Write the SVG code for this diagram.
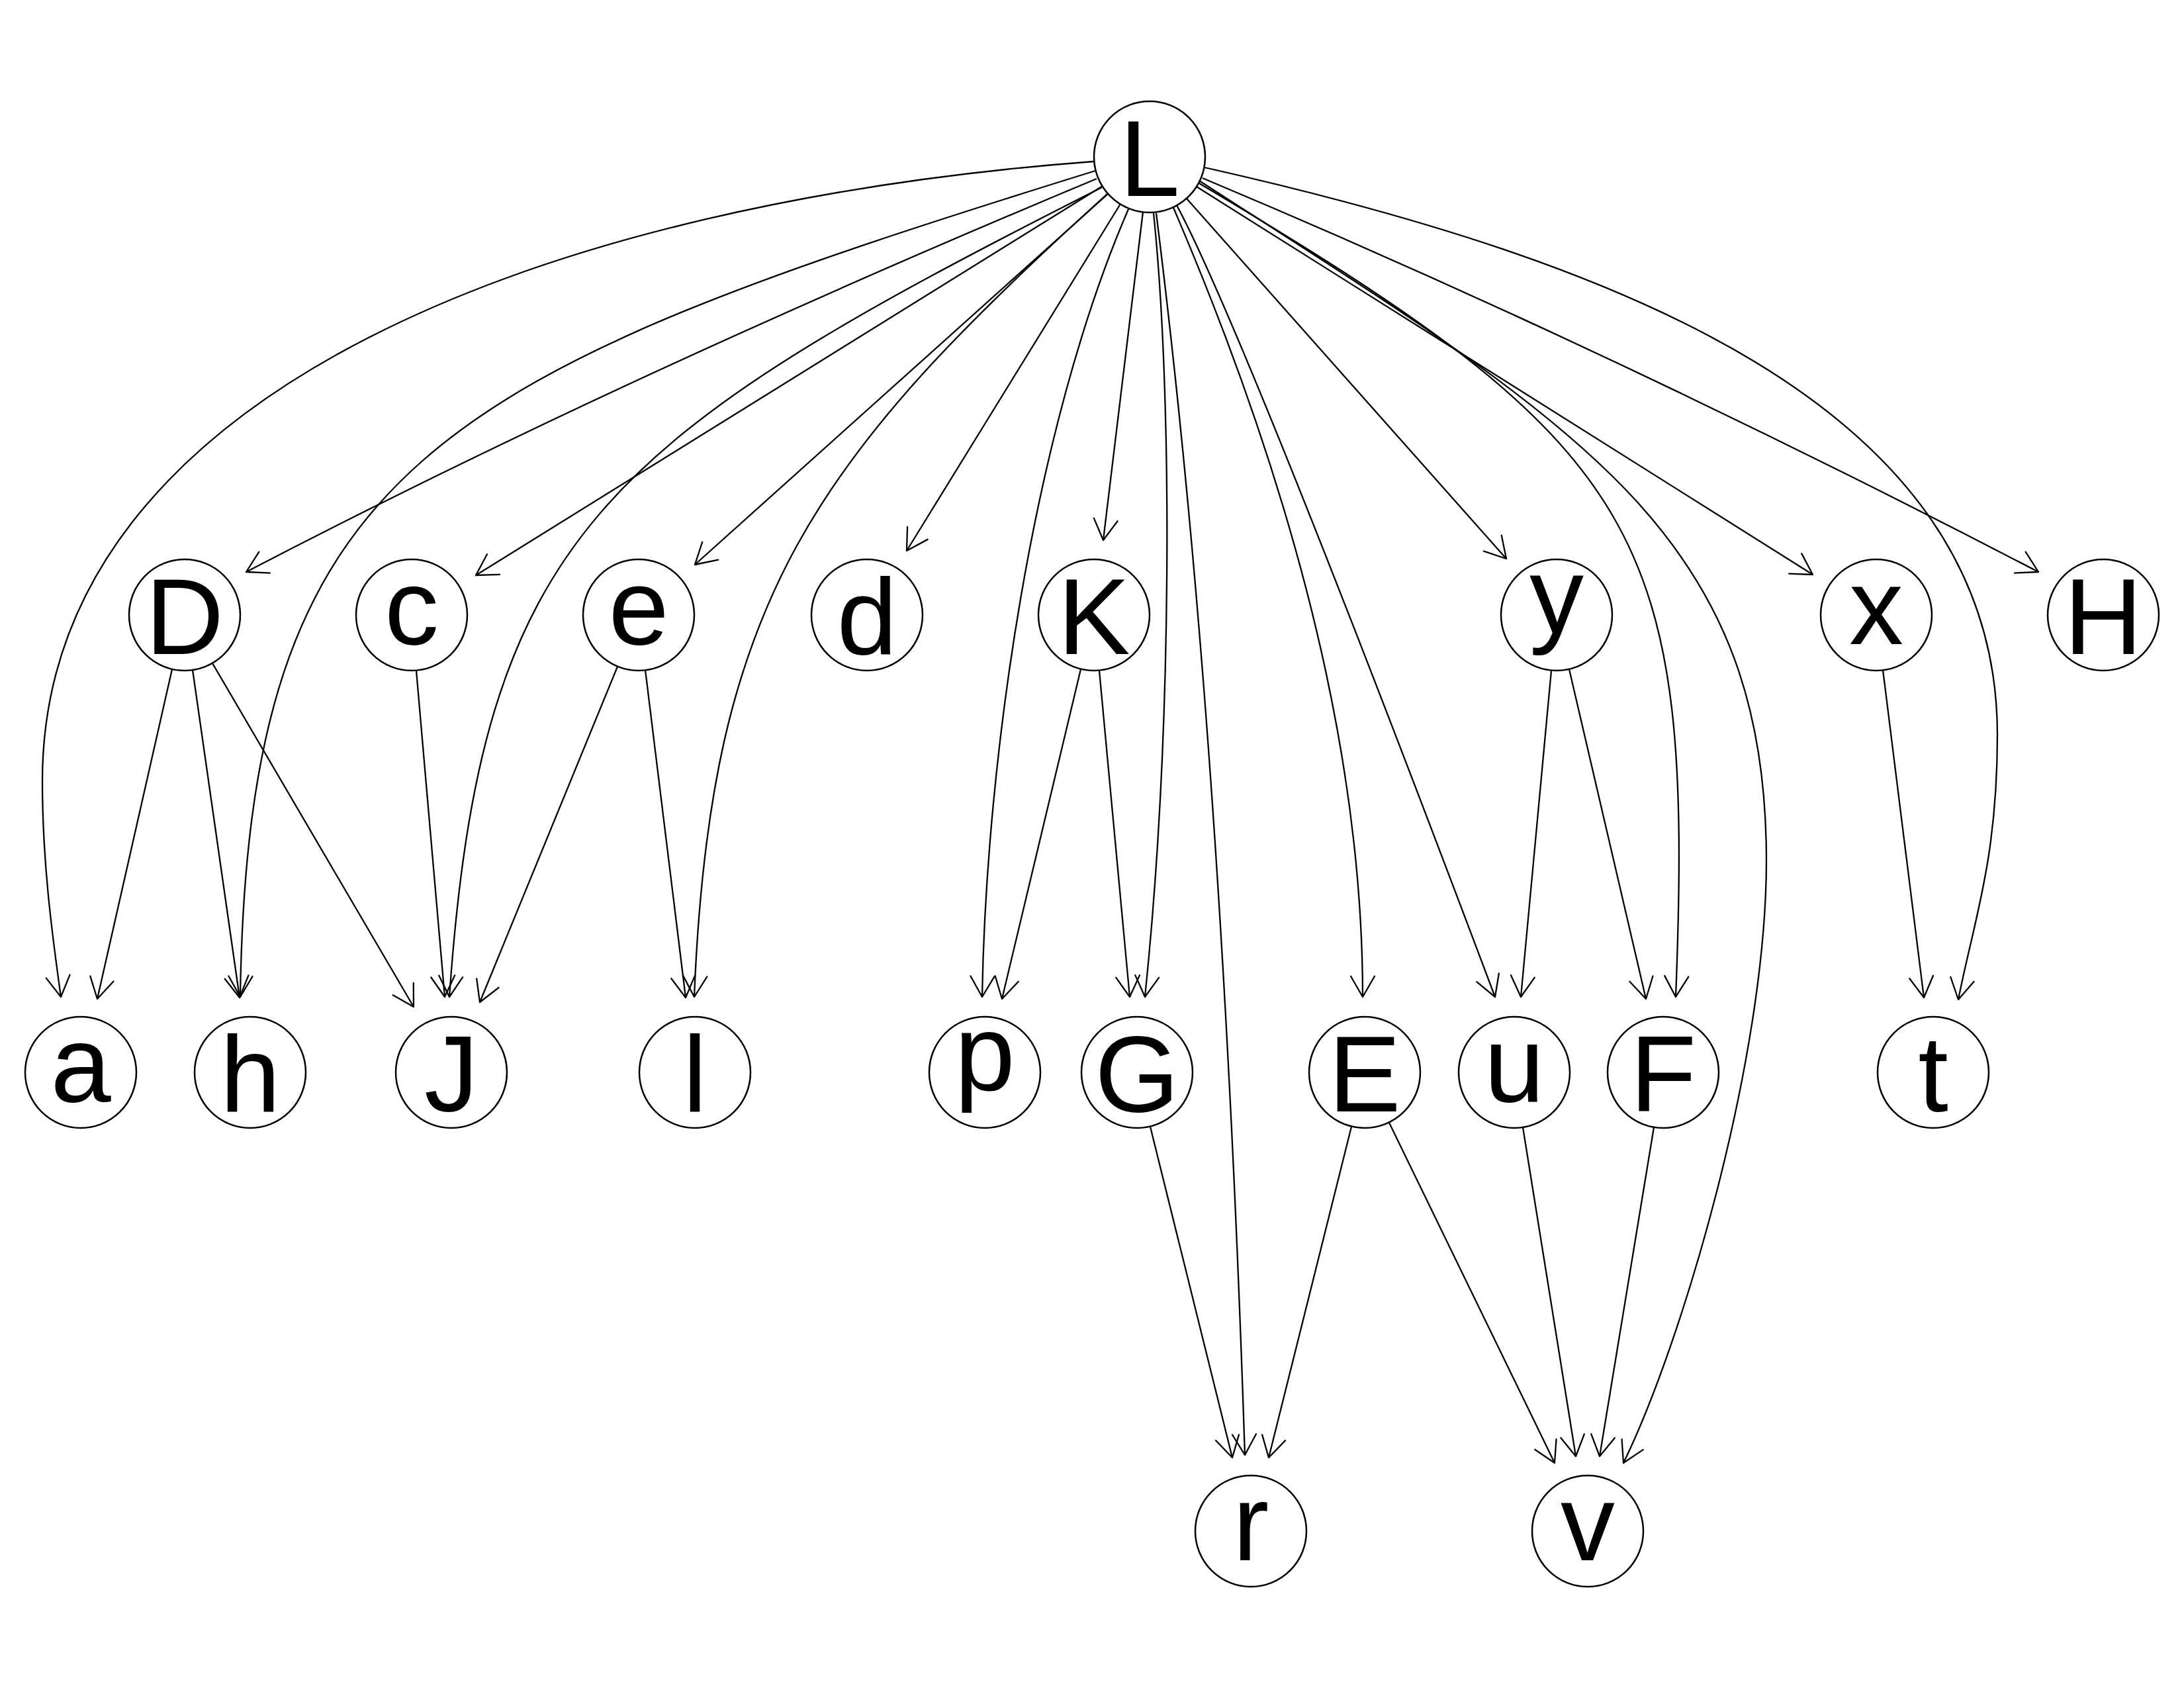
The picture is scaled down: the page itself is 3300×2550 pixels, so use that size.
<svg xmlns="http://www.w3.org/2000/svg" width="3300" height="2550" viewBox="0 0 3300 2550">
<style>
.e{fill:none;stroke:#000;stroke-width:2.3;marker-end:url(#ah)}
.n circle{fill:#fff;stroke:#000;stroke-width:2.5}
.n text{font-family:"Liberation Sans",Arial,sans-serif;font-size:164px;text-anchor:middle;fill:#000}
</style>
<defs>
<marker id="ah" markerUnits="userSpaceOnUse" markerWidth="1" markerHeight="1" refX="0" refY="0" orient="auto" overflow="visible">
<path d="M-31.2,-18 L0,0 L-31.2,18" fill="none" stroke="#000" stroke-width="2.3" stroke-linejoin="round" stroke-linecap="round"/>
</marker>
</defs>
<rect width="3300" height="2550" fill="#fff"/>
<g id="edges">
<path class="e" d="M1652,244 C852,304 64,580 64,1180 C64,1300 78,1406 92,1506"/>
<path class="e" d="M1655,258 C655,568 375,700 363,1506"/>
<path class="e" d="M1657,270 Q935,571 372,864"/>
<path class="e" d="M1666,281 L719,869"/>
<path class="e" d="M1665,283 C908,666 728,806 679,1506"/>
<path class="e" d="M1674,293 L1050,853"/>
<path class="e" d="M1673,293 C1229,695 1073,906 1049,1506"/>
<path class="e" d="M1693,308 L1370,832"/>
<path class="e" d="M1705,316 C1560,650 1490,1150 1484,1506"/>
<path class="e" d="M1727,320 L1667,816"/>
<path class="e" d="M1743,322 C1772,600 1772,1100 1730,1506"/>
<path class="e" d="M1747,322 Q1845,1100 1881,2198"/>
<path class="e" d="M1771,309 Q2059,979 2059,1506"/>
<path class="e" d="M1778,310 Q1880,500 2259,1506"/>
<path class="e" d="M1793,300 L2276,844"/>
<path class="e" d="M1807,274 C2488,678 2560,800 2532,1506"/>
<path class="e" d="M1812,273 C2380,640 2669,800 2669,1300 C2669,1600 2541,2030 2453,2210"/>
<path class="e" d="M1808,282 L2739,868"/>
<path class="e" d="M1817,269 Q2436,529 3080,864"/>
<path class="e" d="M1820,253 C2440,393 3018,610 3018,1110 C3018,1300 2982,1392 2959,1510"/>
<path class="e" d="M260,1011 L147,1509"/>
<path class="e" d="M291,1012 L362,1507"/>
<path class="e" d="M321,1002 L625,1521"/>
<path class="e" d="M629,1013 L672,1506"/>
<path class="e" d="M933,1007 L725,1514"/>
<path class="e" d="M975,1012 L1036,1507"/>
<path class="e" d="M1633,1011 L1514,1509"/>
<path class="e" d="M1661,1013 L1707,1506"/>
<path class="e" d="M2344,1013 L2298,1506"/>
<path class="e" d="M2371,1011 L2487,1509"/>
<path class="e" d="M2845,1012 L2907,1507"/>
<path class="e" d="M1738,1702 L1862,2202"/>
<path class="e" d="M2042,1702 L1917,2202"/>
<path class="e" d="M2099,1696 L2349,2210"/>
<path class="e" d="M2301,1703 L2381,2200"/>
<path class="e" d="M2499,1703 L2417,2200"/>
</g>
<g id="node-L" class="n"><circle cx="1737" cy="237" r="84"/><text x="1737" y="296">L</text></g>
<g id="node-D" class="n"><circle cx="279" cy="929" r="84"/><text x="279" y="988">D</text></g>
<g id="node-c" class="n"><circle cx="622" cy="929" r="84"/><text x="622" y="973">c</text></g>
<g id="node-e" class="n"><circle cx="965" cy="929" r="84"/><text x="965" y="973">e</text></g>
<g id="node-d" class="n"><circle cx="1310" cy="929" r="84"/><text x="1310" y="988">d</text></g>
<g id="node-K" class="n"><circle cx="1653" cy="929" r="84"/><text x="1653" y="988">K</text></g>
<g id="node-y" class="n"><circle cx="2352" cy="929" r="84"/><text x="2352" y="956">y</text></g>
<g id="node-x" class="n"><circle cx="2835" cy="929" r="84"/><text x="2835" y="973">x</text></g>
<g id="node-H" class="n"><circle cx="3178" cy="929" r="84"/><text x="3178" y="988">H</text></g>
<g id="node-a" class="n"><circle cx="122" cy="1620" r="84"/><text x="122" y="1664">a</text></g>
<g id="node-h" class="n"><circle cx="378" cy="1620" r="84"/><text x="378" y="1679">h</text></g>
<g id="node-J" class="n"><circle cx="682" cy="1620" r="84"/><text x="682" y="1678">J</text></g>
<g id="node-l" class="n"><circle cx="1050" cy="1620" r="84"/><text x="1050" y="1679">l</text></g>
<g id="node-p" class="n"><circle cx="1488" cy="1620" r="84"/><text x="1488" y="1647">p</text></g>
<g id="node-G" class="n"><circle cx="1718" cy="1620" r="84"/><text x="1718" y="1679">G</text></g>
<g id="node-E" class="n"><circle cx="2062" cy="1620" r="84"/><text x="2062" y="1679">E</text></g>
<g id="node-u" class="n"><circle cx="2288" cy="1620" r="84"/><text x="2288" y="1664">u</text></g>
<g id="node-F" class="n"><circle cx="2513" cy="1620" r="84"/><text x="2513" y="1679">F</text></g>
<g id="node-t" class="n"><circle cx="2921" cy="1620" r="84"/><text x="2921" y="1679">t</text></g>
<g id="node-r" class="n"><circle cx="1890" cy="2313" r="84"/><text x="1890" y="2357">r</text></g>
<g id="node-v" class="n"><circle cx="2399" cy="2313" r="84"/><text x="2399" y="2357">v</text></g>
</svg>
